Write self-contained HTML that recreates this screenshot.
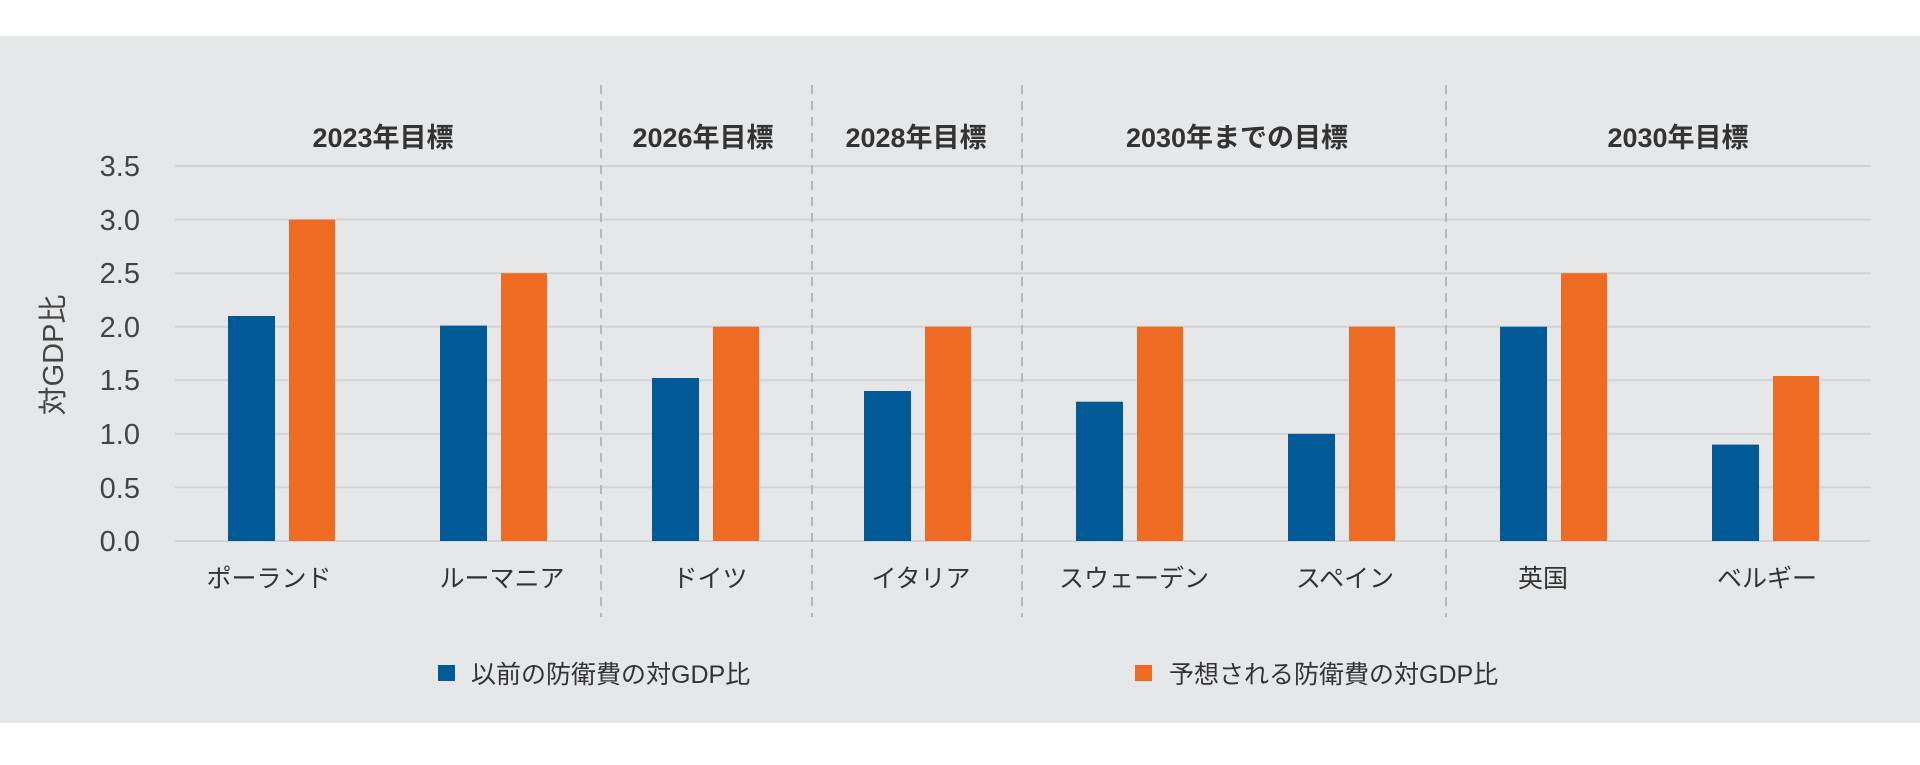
<!DOCTYPE html>
<html><head><meta charset="utf-8"><style>
body{margin:0;background:#fff;width:1920px;height:760px;overflow:hidden}
svg text{font-family:"Liberation Sans","Noto Sans CJK JP",sans-serif}
</style></head><body>
<svg width="1920" height="760" xmlns="http://www.w3.org/2000/svg">
<rect x="0" y="36" width="1920" height="687" fill="#e6e7e9"/>
<g stroke="#d2d3d5" stroke-width="2">
<line x1="175" x2="1871" y1="166" y2="166"/><line x1="175" x2="1871" y1="219.6" y2="219.6"/>
<line x1="175" x2="1871" y1="273.2" y2="273.2"/><line x1="175" x2="1871" y1="326.7" y2="326.7"/>
<line x1="175" x2="1871" y1="380.3" y2="380.3"/><line x1="175" x2="1871" y1="433.9" y2="433.9"/>
<line x1="175" x2="1871" y1="487.4" y2="487.4"/><line x1="175" x2="1871" y1="541" y2="541"/>
</g>
<g stroke="#b5b6b8" stroke-width="2" stroke-dasharray="9,7">
<line x1="601" x2="601" y1="85" y2="617"/><line x1="812" x2="812" y1="85" y2="617"/>
<line x1="1022" x2="1022" y1="85" y2="617"/><line x1="1446" x2="1446" y1="85" y2="617"/>
</g>
<g font-size="29" fill="#444" text-anchor="end" font-weight="300">
<text x="140" y="176">3.5</text><text x="140" y="230">3.0</text><text x="140" y="283">2.5</text>
<text x="140" y="337">2.0</text><text x="140" y="390">1.5</text><text x="140" y="444">1.0</text>
<text x="140" y="498">0.5</text><text x="140" y="551">0.0</text>
</g>
<text transform="translate(63,355) rotate(-90)" font-size="29" fill="#444" text-anchor="middle">対GDP比</text>
<g font-size="27" font-weight="bold" fill="#333" text-anchor="middle">
<text x="383" y="147">2023年目標</text><text x="703" y="147">2026年目標</text>
<text x="916" y="147">2028年目標</text><text x="1237" y="147">2030年までの目標</text>
<text x="1678" y="147">2030年目標</text>
</g>
<g fill="#005a96">
<rect x="228" y="316" width="47" height="225"/>
<rect x="440" y="325.6" width="47" height="215.4"/>
<rect x="652" y="378" width="47" height="163"/>
<rect x="864" y="391" width="47" height="150"/>
<rect x="1076" y="401.7" width="47" height="139.3"/>
<rect x="1288" y="433.9" width="47" height="107.1"/>
<rect x="1500" y="326.7" width="47" height="214.3"/>
<rect x="1712" y="444.6" width="47" height="96.4"/>
</g>
<g fill="#ee6b24">
<rect x="289" y="219.6" width="46" height="321.4"/>
<rect x="501" y="273.2" width="46" height="267.8"/>
<rect x="713" y="326.7" width="46" height="214.3"/>
<rect x="925" y="326.7" width="46" height="214.3"/>
<rect x="1137" y="326.7" width="46" height="214.3"/>
<rect x="1349" y="326.7" width="46" height="214.3"/>
<rect x="1561" y="273.2" width="46" height="267.8"/>
<rect x="1773" y="376" width="46" height="165"/>
</g>
<g font-size="25" fill="#333" text-anchor="middle">
<text x="269" y="587">ポーランド</text><text x="502" y="587">ルーマニア</text>
<text x="710" y="587">ドイツ</text><text x="921" y="587">イタリア</text>
<text x="1134" y="587">スウェーデン</text><text x="1345" y="587">スペイン</text>
<text x="1543" y="587">英国</text><text x="1767" y="587">ベルギー</text>
</g>
<rect x="438" y="665" width="17" height="16" fill="#005a96"/>
<rect x="1135" y="665" width="17" height="16" fill="#ee6b24"/>
<g font-size="25" fill="#333">
<text x="471" y="683">以前の防衛費の対GDP比</text>
<text x="1169" y="683">予想される防衛費の対GDP比</text>
</g>
</svg>
</body></html>
